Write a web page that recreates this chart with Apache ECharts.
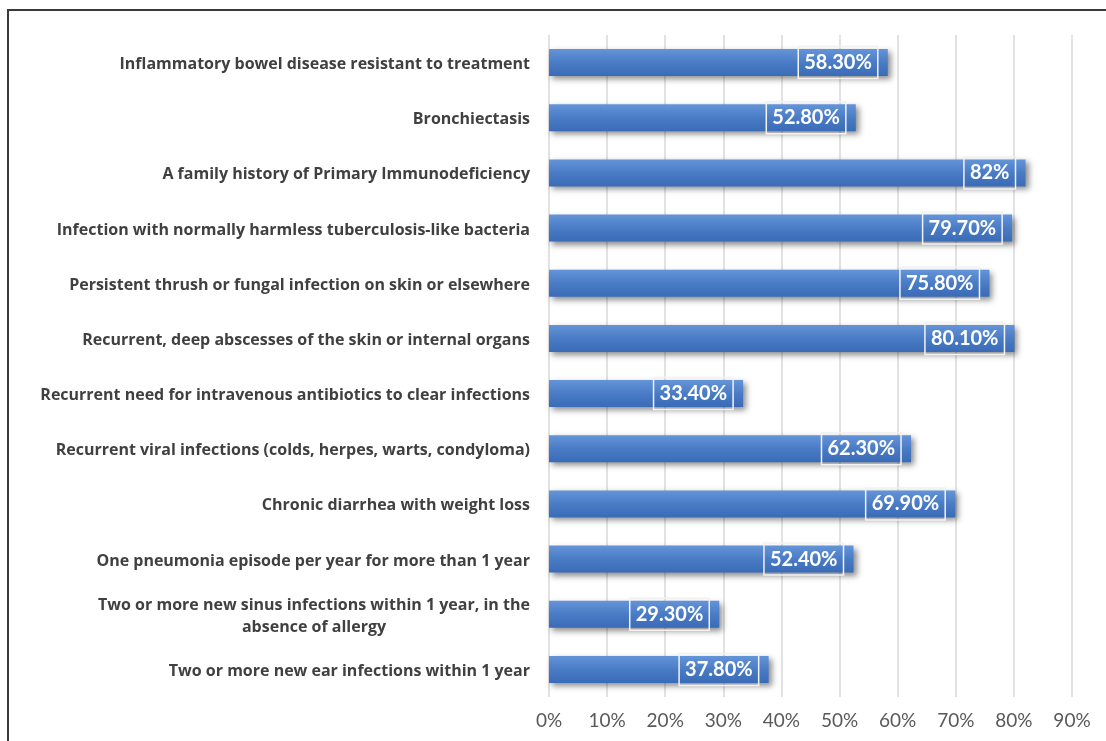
<!DOCTYPE html>
<html>
<head>
<meta charset="utf-8">
<script src="https://cdn.jsdelivr.net/npm/echarts@6/dist/echarts.min.js"></script>
<style>
  html, body { margin: 0; padding: 0; background: #ffffff; }
  #chart { width: 1106px; height: 741px; }
</style>
</head>
<body>
<div id="chart"></div>
<script>
// Warning signs of primary immunodeficiency, listed top to bottom
const categories = [
  'Inflammatory bowel disease resistant to treatment',
  'Bronchiectasis',
  'A family history of Primary Immunodeficiency',
  'Infection with normally harmless tuberculosis-like bacteria',
  'Persistent thrush or fungal infection on skin or elsewhere',
  'Recurrent, deep abscesses of the skin or internal organs',
  'Recurrent need for intravenous antibiotics to clear infections',
  'Recurrent viral infections (colds, herpes, warts, condyloma)',
  'Chronic diarrhea with weight loss',
  'One pneumonia episode per year for more than 1 year',
  'Two or more new sinus infections within 1 year, in the\nabsence of allergy',
  'Two or more new ear infections within 1 year'
];

// Percentage for each sign, same order as categories
const values = [58.3, 52.8, 82, 79.7, 75.8, 80.1, 33.4, 62.3, 69.9, 52.4, 29.3, 37.8];

// Percent axis ticks
const tickValues = [0, 10, 20, 30, 40, 50, 60, 70, 80, 90];

const LABEL_FONT = 'Open Sans';
const FONT = 'Lato';

function pctLabel(v) {
  return Number.isInteger(v) ? v + '%' : v.toFixed(2) + '%';
}

const chart = echarts.init(document.getElementById('chart'), null, { renderer: 'canvas' });

chart.setOption({
  animation: false,
  backgroundColor: '#ffffff',
  graphic: [{
    type: 'rect',
    shape: { x: 8, y: 10, width: 1200, height: 800 },
    style: { fill: 'none', stroke: '#3a3a3a', lineWidth: 2 },
    silent: true,
    z: 100
  }],
  grid: { left: 549, right: 34, top: 35, bottom: 44, containLabel: false },
  xAxis: {
    type: 'value',
    min: tickValues[0],
    max: tickValues[tickValues.length - 1],
    interval: 10,
    axisLine: { show: false },
    axisTick: { show: false },
    splitLine: { show: true, lineStyle: { color: '#d9d9d9', width: 1.5 } },
    axisLabel: {
      margin: 14,
      color: '#595959',
      fontFamily: FONT,
      fontSize: 19,
      formatter: v => v + '%'
    }
  },
  yAxis: {
    type: 'category',
    data: categories,
    inverse: true,
    axisLine: { show: false },
    axisTick: { show: false },
    splitLine: { show: false },
    axisLabel: {
      margin: 19,
      padding: [4, 0, 0, 0],
      color: '#404040',
      fontFamily: LABEL_FONT,
      fontWeight: 'bold',
      fontSize: 16,
      lineHeight: 22,
      formatter: function (v) {
        if (v.indexOf('\n') >= 0) {
          return v.split('\n').map(s => '{c|' + s + '}').join('\n');
        }
        return v;
      },
      rich: {
        c: {
          width: 432,
          align: 'center',
          color: '#404040',
          fontFamily: LABEL_FONT,
          fontWeight: 'bold',
          fontSize: 16,
          lineHeight: 22
        }
      }
    }
  },
  series: [{
    type: 'bar',
    data: values,
    barWidth: 27,
    itemStyle: {
      color: new echarts.graphic.LinearGradient(0, 0, 0, 1, [
        { offset: 0, color: '#6494d8' },
        { offset: 0.5, color: '#4a7cc6' },
        { offset: 1, color: '#3a6bb6' }
      ]),
      shadowColor: 'rgba(0,0,0,0.45)',
      shadowBlur: 6,
      shadowOffsetX: 3,
      shadowOffsetY: 3
    },
    label: {
      show: true,
      position: 'insideRight',
      distance: 10,
      formatter: p => pctLabel(p.value),
      color: '#ffffff',
      fontFamily: FONT,
      fontWeight: 'bold',
      fontSize: 20,
      lineHeight: 23,
      padding: [5, 6, 4, 6],
      borderColor: '#f2f2f2',
      borderWidth: 1.5
    }
  }]
});
</script>
</body>
</html>
